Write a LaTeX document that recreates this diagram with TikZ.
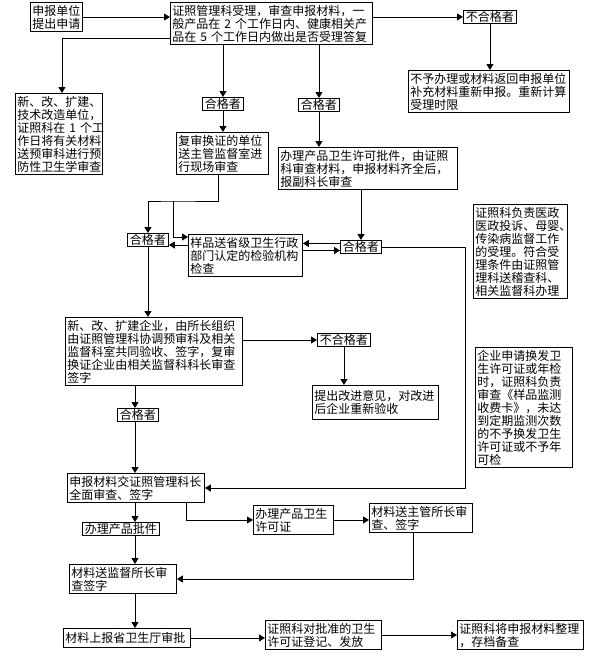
\documentclass[tikz,border=0pt]{standalone}
\usepackage{fontspec}
\setmainfont{Noto Sans CJK SC}
\usetikzlibrary{arrows.meta,calc}
\tikzset{
  flowarrow/.style={-{Triangle[length=6pt,width=7pt]}, line width=0.9pt},
  flowline/.style={line width=0.9pt}
}

\begin{document}
\begin{tikzpicture}[x=1pt, y=-1pt,
  font=\fontsize{12}{13}\selectfont,
  box/.style={draw, line width=0.9pt, anchor=north west, align=left, inner xsep=2pt, inner ysep=2.5pt},
  tag/.style={box, inner xsep=2.5pt, inner ysep=1pt}
]
\useasboundingbox[fill=white] (0,0) rectangle (589,664);

\node[box, text width=48pt] at (30,2) (apply) {申报单位\\提出申请};
\node[box, text width=198pt] at (170,2) (accept) {证照管理科受理，审查申报材料，一\\般产品在~2~个工作日内、健康相关产\\品在~5~个工作日内做出是否受理答复};
\node[tag] at (463,10) (fail1) {不合格者};
\node[box, text width=157pt] at (408,70) (reject) {不予办理或材料返回申报单位\\补充材料重新申报。重新计算\\受理时限};
\node[box, text width=83pt] at (15,93) (newunit) {新、改、扩建、\\技术改造单位，\\证照科在~1~个工\\作日将有关材料\\送预审科进行预\\防性卫生学审查};
\node[tag] at (202,97) (ok1) {合格者};
\node[tag] at (298,98) (ok2) {合格者};
\node[box, text width=88pt] at (176,132) (recheck) {复审换证的单位\\送主管监督室进\\行现场审查};
\node[box, text width=175pt] at (278,147) (permit) {办理产品卫生许可批件，由证照\\科审查材料，申报材料齐全后，\\报副科长审查};
\node[tag] at (127,233) (ok3) {合格者};
\node[box, text width=110pt] at (188,234) (sample) {样品送省级卫生行政\\部门认定的检验机构\\检查};
\node[tag] at (340,240) (ok4) {合格者};
\node[box, text width=90pt] at (473,204) (note1) {证照科负责医政\\医政投诉、母婴、\\传染病监督工作\\的受理。符合受\\理条件由证照管\\理科送稽查科、\\相关监督科办理};
\node[box, text width=173pt] at (65,317) (bigcheck) {新、改、扩建企业，由所长组织\\由证照管理科协调预审科及相关\\监督科室共同验收、签字，复审\\换证企业由相关监督科科长审查\\签字};
\node[tag] at (317,333) (fail2) {不合格者};
\node[box, text width=122pt, minimum height=34pt] at (312,385) (improve) {提出改进意见，对改进\\后企业重新验收};
\node[box, text width=93pt] at (475,347) (note2) {企业申请换发卫\\生许可证或年检\\时，证照科负责\\审查《样品监测\\收费卡》，未达\\到定期监测次数\\的不予换发卫生\\许可证或不予年\\可检};
\node[tag] at (117,408) (ok5) {合格者};
\node[box, text width=133pt] at (67,473) (submit) {申报材料交证照管理科长\\全面审查、签字};
\node[tag] at (82,522) (prodok) {办理产品批件};
\node[box, text width=76pt] at (253,505) (license) {办理产品卫生\\许可证};
\node[box, text width=99pt] at (369,503) (chief) {材料送主管所长审\\查、签字};
\node[box, text width=103pt] at (69,564) (director) {材料送监督所长审\\查签字};
\node[box, text width=123pt, minimum height=19pt] at (63,628) (province) {材料上报省卫生厅审批};
\node[box, text width=112pt] at (265,620) (issue) {证照科对批准的卫生\\许可证登记、发放};
\node[box, text width=122pt] at (457,620) (archive) {证照科将申报材料整理\\，存档备查};

\coordinate (fork) at (173,201);
\coordinate (rail) at (465,0);
\coordinate (spine) at (135,0);
\coordinate (s1) at ($(ok3.east)+(0,5)$);
\coordinate (q1) at ($(ok4.west)+(0,-3.5)$);
\coordinate (q2) at ($(ok4.west)+(0,3.5)$);

\draw[flowarrow] (apply.east) -- (apply.east -| accept.west);
\draw[flowarrow] (accept.east |- fail1.west) -- (fail1.west);
\draw[flowarrow] (fail1.south) -- (fail1.south |- reject.north);
\draw[flowarrow] ([yshift=7pt]accept.south west) -| ([xshift=3pt]newunit.north);
\draw[flowarrow] (ok1.north |- accept.south) -- (ok1.north);
\draw[flowarrow] (ok2.north |- accept.south) -- (ok2.north);
\draw[flowarrow] (ok1.south) -- (ok1.south |- recheck.north);
\draw[flowarrow] (ok2.south) -- (ok2.south |- permit.north);
\draw[flowarrow] ([xshift=-4pt]recheck.south) |- (fork) -| (ok3.north);
\draw[flowarrow] (fork) |- ([yshift=-3pt]sample.north west);
\draw[flowarrow] (sample.west |- s1) -- (s1);
\draw[flowarrow] (ok4.north |- permit.south) -- (ok4.north);
\draw[flowarrow] (q1) -- (q1 -| sample.east);
\draw[flowarrow] (q2 -| sample.east) -- (q2);
\draw[flowarrow] (ok4.east) -| (rail |- submit.east) -- (submit.east);
\draw[flowarrow] (ok3.south) -- (ok3.south |- bigcheck.north);
\draw[flowarrow] (bigcheck.east |- fail2.west) -- (fail2.west);
\draw[flowarrow] (fail2.south) -- (fail2.south |- improve.north);
\draw[flowarrow] (spine |- bigcheck.south) -- (spine |- ok5.north);
\draw[flowarrow] (spine |- ok5.south) -- (spine |- submit.north);
\draw[flowarrow] (spine |- submit.south) -- (spine |- prodok.north);
\draw[flowarrow] ([xshift=-18pt]submit.south east) |- (license.west);
\draw[flowarrow] (license.east) -- (license.east -| chief.west);
\draw[flowarrow] ([xshift=-8pt]chief.south) |- (director.east);
\draw[flowarrow] (spine |- prodok.south) -- (spine |- director.north);
\draw[flowarrow] (spine |- director.south) -- (spine |- province.north);
\draw[flowarrow] (province.east) -- (province.east -| issue.west);
\draw[flowarrow] (issue.east) -- (issue.east -| archive.west);
\end{tikzpicture}
\end{document}
